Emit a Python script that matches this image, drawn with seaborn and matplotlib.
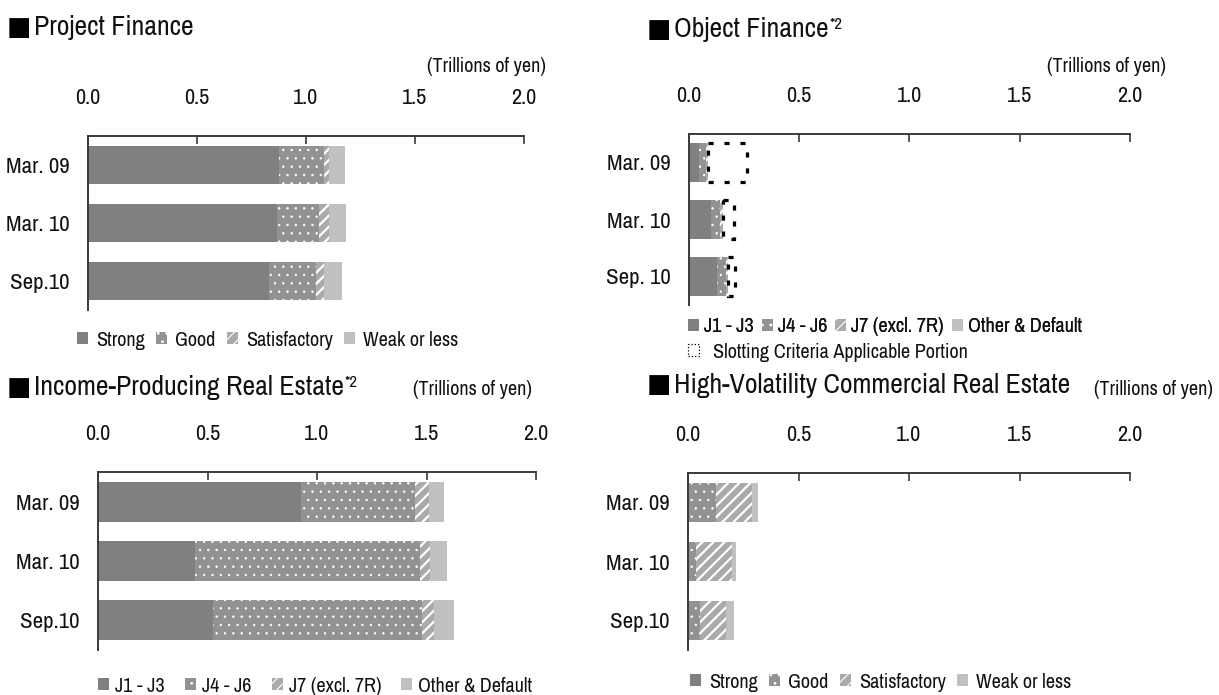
import numpy as np
import pandas as pd
import matplotlib
matplotlib.use("Agg")
import matplotlib.pyplot as plt
from matplotlib import font_manager
from matplotlib.patches import Patch
from matplotlib.ticker import FormatStrFormatter
import seaborn as sns

# ---- data (trillions of yen) ----
pf_periods = ["Mar. 09", "Mar. 10", "Sep.10"]
of_periods = ["Mar. 09", "Mar. 10", "Sep. 10"]
ipre_periods = ["Mar. 09", "Mar. 10", "Sep.10"]
hv_periods = ["Mar. 09", "Mar. 10", "Sep.10"]

slot_labels = ["Strong", "Good", "Satisfactory", "Weak or less"]
grade_labels = ["J1 - J3", "J4 - J6", "J7 (excl. 7R)", "Other & Default"]
slotting_label = "Slotting Criteria Applicable Portion"

x_ticks = [0.0, 0.5, 1.0, 1.5, 2.0]

# Project Finance
pf_strong = [0.876, 0.868, 0.832]
pf_good = [0.209, 0.194, 0.214]
pf_satisfactory = [0.023, 0.043, 0.037]
pf_weak = [0.074, 0.080, 0.084]

# Object Finance
of_j1_j3 = [0.048, 0.101, 0.127]
of_j4_j6 = [0.032, 0.043, 0.041]
of_j7 = [0.006, 0.010, 0.011]
of_other = [0.0, 0.0, 0.0]
of_slotting = [0.176, 0.051, 0.032]

# Income-Producing Real Estate
ipre_j1_j3 = [0.925, 0.442, 0.525]
ipre_j4_j6 = [0.523, 1.028, 0.955]
ipre_j7 = [0.064, 0.047, 0.055]
ipre_other = [0.067, 0.076, 0.090]

# High-Volatility Commercial Real Estate
hv_strong = [0.0, 0.0, 0.0]
hv_good = [0.127, 0.037, 0.054]
hv_satisfactory = [0.163, 0.161, 0.117]
hv_weak = [0.025, 0.018, 0.035]

# ---- style ----
sns.set_theme(style="white")
installed = {f.name for f in font_manager.fontManager.ttflist}
NARROW = "Liberation Sans"
for cand in ["Liberation Sans Narrow", "Arial Narrow", "Archivo Narrow",
             "Roboto Condensed", "PT Sans Narrow", "Pragati Narrow",
             "Open Sans Condensed", "Fira Sans Condensed",
             "IBM Plex Sans Condensed"]:
    if cand in installed:
        NARROW = cand
        break
plt.rcParams["font.family"] = [NARROW, "DejaVu Sans"]
plt.rcParams["text.color"] = "#111111"

SEGMENTS = [
    dict(color="#808080", hatch=None, hlw=1.0),
    dict(color="#929292", hatch="..", hlw=0.5),
    dict(color="#aaaaaa", hatch="///", hlw=1.6),
    dict(color="#c0c0c0", hatch=None, hlw=1.0),
]
BAR_H = 0.67
SPINE = "#3a3a3a"

W, H = 1219, 695
fig = plt.figure(figsize=(W / 100, H / 100), dpi=100)


def px_axes(x0, x1, y0, y1):
    return fig.add_axes([x0 / W, 1 - y1 / H, (x1 - x0) / W, (y1 - y0) / H])


def set_hatch_lw(patches, lw):
    for p in patches:
        if hasattr(p, "set_hatch_linewidth"):
            p.set_hatch_linewidth(lw)


def stacked(ax, periods, layers):
    cum = np.cumsum(np.array(layers, dtype=float), axis=0)
    # paint the running totals from the outermost inward
    for k in range(len(layers) - 1, -1, -1):
        df = pd.DataFrame({"period": periods, "value": cum[k]})
        st = SEGMENTS[k]
        n_before = len(ax.patches)
        with plt.rc_context({"hatch.linewidth": st["hlw"]}):
            sns.barplot(data=df, x="value", y="period", orient="y", ax=ax,
                        color=st["color"], saturation=1, hatch=st["hatch"],
                        edgecolor="white", linewidth=0, width=BAR_H,
                        errorbar=None)
        set_hatch_lw(ax.patches[n_before:], st["hlw"])
    return cum


def style_axes(ax, periods):
    ax.set_xlim(0, 2.0)
    ax.set_ylim(2.5, -0.5)
    ax.xaxis.tick_top()
    ax.set_xticks(x_ticks)
    ax.xaxis.set_major_formatter(FormatStrFormatter("%.1f"))
    ax.tick_params(axis="x", direction="in", length=6, width=1.2,
                   color=SPINE, pad=20, labelsize=16, labelcolor="#111111")
    ax.set_yticks(range(len(periods)))
    ax.set_yticklabels(periods)
    ax.tick_params(axis="y", which="major", length=0, pad=13,
                   labelsize=16.5, labelcolor="#111111")
    ax.set_yticks([-0.5, 0.5, 1.5, 2.5], minor=True)
    ax.tick_params(axis="y", which="minor", direction="in", length=6,
                   width=1.2, color=SPINE)
    for s in ("right", "bottom"):
        ax.spines[s].set_visible(False)
    for s in ("top", "left"):
        ax.spines[s].set_color(SPINE)
        ax.spines[s].set_linewidth(1.4)
    ax.set_xlabel("")
    ax.set_ylabel("")
    ax.set_facecolor("white")


def title(x, y, text, sup=None):
    fig.text(x / W, 1 - y / H, "\u25A0", fontsize=18.5, family="DejaVu Sans",
             ha="left", va="center", color="black")
    t = fig.text((x + 27) / W, 1 - y / H, text, fontsize=20,
                 ha="left", va="center")
    if sup:
        fig.canvas.draw()
        bb = t.get_window_extent()
        fig.text((bb.x1 + 1) / W, (bb.y1 - 7) / H, sup, fontsize=12,
                 ha="left", va="center")


def units(x_right, y):
    fig.text(x_right / W, 1 - y / H, "(Trillions of yen)", fontsize=14.5,
             ha="right", va="center")


def legend(x, y, labels, colsp, txtpad):
    handles = []
    for s in SEGMENTS:
        p = Patch(facecolor=s["color"], hatch=s["hatch"], edgecolor="white",
                  linewidth=0)
        handles.append(p)
    lg = fig.legend(handles, labels, loc="center left",
                    bbox_to_anchor=(x / W, 1 - y / H), ncol=4,
                    frameon=False, fontsize=14.5, handlelength=0.55,
                    handleheight=0.55, handletextpad=txtpad,
                    columnspacing=colsp, borderpad=0, borderaxespad=0)
    set_hatch_lw(lg.get_patches(), 0.8)
    return lg


# ---- Project Finance ----
ax1 = px_axes(87.5, 524, 136, 310)
stacked(ax1, pf_periods, [pf_strong, pf_good, pf_satisfactory, pf_weak])
style_axes(ax1, pf_periods)
title(7, 28, "Project Finance")
units(546, 67)
legend(77, 340, slot_labels, 0.55, 0.4)

# ---- Object Finance ----
ax2 = px_axes(688.7, 1130, 134, 305)
cum2 = stacked(ax2, of_periods, [of_j1_j3, of_j4_j6, of_j7, of_other])
for i, (start, width) in enumerate(zip(cum2[-1], of_slotting)):
    ax2.barh(i, width, left=start, height=BAR_H, fill=False,
             edgecolor="black", linewidth=2.3, linestyle=(0, (1.6, 3.4)))
style_axes(ax2, of_periods)
title(647, 30, "Object Finance", "*2")
units(1166, 67)
lg_a = legend(688, 327, grade_labels, 0.4, 0.25)
lg_b = fig.legend([Patch(facecolor="white", edgecolor="black", linestyle=":",
                         linewidth=0.9)], [slotting_label], loc="center left",
                  bbox_to_anchor=(688 / W, 1 - 352 / H), frameon=False,
                  fontsize=14.5, handlelength=0.55, handleheight=0.55,
                  handletextpad=0.7, borderpad=0, borderaxespad=0)
fig.add_artist(lg_a)

# ---- Income-Producing Real Estate ----
ax3 = px_axes(98, 536, 472, 650)
stacked(ax3, ipre_periods, [ipre_j1_j3, ipre_j4_j6, ipre_j7, ipre_other])
style_axes(ax3, ipre_periods)
title(7, 388, "Income-Producing Real Estate", "*2")
units(532, 390)
legend(98, 686, grade_labels, 1.0, 0.3)

# ---- High-Volatility Commercial Real Estate ----
ax4 = px_axes(688, 1130, 473, 650)
stacked(ax4, hv_periods, [hv_strong, hv_good, hv_satisfactory, hv_weak])
style_axes(ax4, hv_periods)
title(647, 385, "High-Volatility Commercial Real Estate")
units(1213, 390)
legend(690, 682, slot_labels, 0.55, 0.4)

fig.savefig("out.png", dpi=100, facecolor="white")
